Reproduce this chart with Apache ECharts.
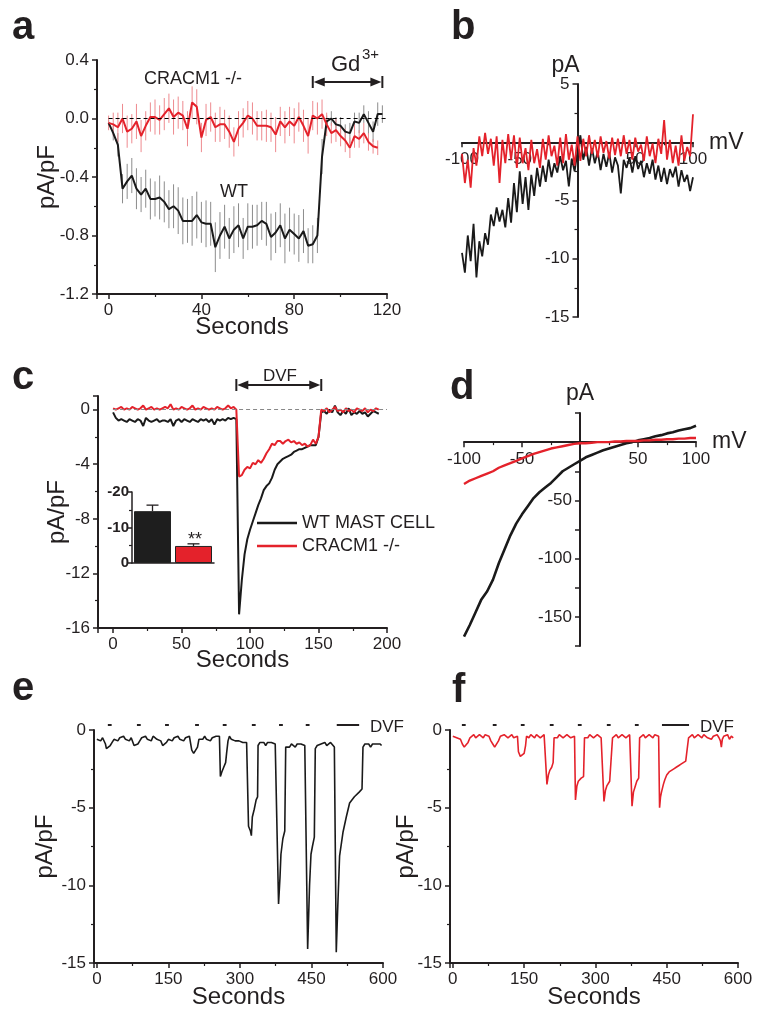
<!DOCTYPE html>
<html>
<head>
<meta charset="utf-8">
<script src="https://cdn.jsdelivr.net/npm/echarts@6/dist/echarts.min.js"></script>
<style>html,body{margin:0;padding:0;background:#fff}#chart{width:763px;height:1017px}</style>
</head>
<body>
<div id="chart"></div>
<script>
// ---------- DATA ----------
// Panel a: mean current density (pA/pF) vs time (s), with SEM
const aTime = [0,2,4,6,8,10,12,14,16,18,20,22,24,26,28,30,32,34,36,38,40,42,44,46,48,50,52,54,56,58,60,62,64,66,68,70,72,74,76,78,80,82,84,86,88,90,92,94,96,98,100,102,104,106,108,110,112,114,116,118];
const aWT = [-0.03,-0.10,-0.18,-0.48,-0.43,-0.39,-0.48,-0.52,-0.48,-0.55,
 -0.55,-0.54,-0.57,-0.62,-0.60,-0.63,-0.70,-0.70,-0.70,-0.66,
 -0.71,-0.72,-0.72,-0.88,-0.80,-0.74,-0.82,-0.76,-0.73,-0.82,
 -0.74,-0.74,-0.73,-0.70,-0.72,-0.81,-0.78,-0.73,-0.82,-0.76,
 -0.79,-0.82,-0.77,-0.87,-0.86,-0.80,-0.26,-0.02,0.00,-0.04,
 -0.05,-0.09,-0.10,-0.02,-0.03,0.03,-0.03,-0.09,0.03,0.03];
const aWTerr = [0.02,0.05,0.08,0.10,0.12,0.12,0.14,0.12,0.13,0.14,
 0.12,0.15,0.14,0.13,0.15,0.16,0.16,0.15,0.17,0.16,
 0.14,0.16,0.15,0.17,0.16,0.15,0.14,0.16,0.15,0.14,
 0.16,0.15,0.14,0.13,0.15,0.16,0.14,0.15,0.17,0.15,
 0.14,0.16,0.15,0.12,0.13,0.12,0.12,0.04,0.05,0.05,
 0.06,0.05,0.07,0.06,0.07,0.06,0.08,0.07,0.08,0.06];
const aKO = [-0.03,-0.04,-0.06,0.00,-0.09,-0.07,-0.02,-0.12,-0.05,0.01,
 0.01,-0.01,0.03,0.07,0.01,0.04,0.02,-0.07,0.11,0.08,
 -0.13,-0.01,0.01,-0.06,-0.04,-0.04,-0.09,-0.16,-0.07,-0.03,
 0.02,0.00,-0.05,-0.05,-0.05,-0.06,-0.11,-0.02,-0.06,-0.02,
 -0.05,0.01,-0.05,-0.12,0.02,0.00,0.03,-0.04,-0.10,-0.08,
 -0.12,-0.15,-0.20,-0.12,-0.14,-0.10,-0.16,-0.19,-0.20];
const aKOerr = [0.05,0.08,0.10,0.10,0.11,0.10,0.12,0.11,0.10,0.10,
 0.12,0.10,0.11,0.10,0.12,0.11,0.10,0.12,0.11,0.12,
 0.10,0.11,0.10,0.10,0.12,0.10,0.11,0.10,0.12,0.10,
 0.10,0.11,0.10,0.10,0.11,0.10,0.12,0.10,0.11,0.10,
 0.12,0.10,0.11,0.12,0.10,0.11,0.10,0.08,0.07,0.08,
 0.07,0.08,0.07,0.08,0.06,0.07,0.06,0.05,0.05];
const gdWindow = [88, 118];

// Panel b: I-V (pA vs mV)
const bV = [-100,-97.5,-95,-92.5,-90,-87.5,-85,-82.5,-80,-77.5,-75,-72.5,-70,-67.5,-65,-62.5,-60,-57.5,-55,-52.5,-50,-47.5,-45,-42.5,-40,-37.5,-35,-32.5,-30,-27.5,-25,-22.5,-20,-17.5,-15,-12.5,-10,-7.5,-5,-2.5,0,2.5,5,7.5,10,12.5,15,17.5,20,22.5,25,27.5,30,32.5,35,37.5,40,42.5,45,47.5,50,52.5,55,57.5,60,62.5,65,67.5,70,72.5,75,77.5,80,82.5,85,87.5,90,92.5,95,97.5,100];
const bWT = [-9.5,-11.2,-8.0,-10.2,-7.0,-11.6,-8.5,-9.8,-7.8,-8.8,
 -6.2,-7.2,-5.6,-6.8,-5.8,-7.3,-4.8,-6.9,-3.5,-6.0,
 -2.5,-5.3,-3.0,-5.8,-2.8,-4.6,-2.2,-3.8,-2.0,-3.4,
 -1.5,-3.0,-1.8,-2.6,-1.2,-2.4,-1.6,-3.8,-1.4,-2.5,
 -0.8,0.6,-1.5,-0.4,-2.0,-0.5,-1.8,-0.8,-2.4,-1.0,
 -2.1,-0.9,-2.6,-1.3,-2.0,-4.4,-1.5,-2.2,-1.3,-2.6,
 -1.2,-2.3,-1.6,-3.0,-1.8,-2.7,-1.5,-3.2,-2.0,-3.4,
 -2.2,-3.6,-2.3,-3.0,-2.1,-3.8,-2.4,-3.4,-2.8,-4.2,
 -3.0];
const bKO = [-1.0,-3.5,-1.5,-3.9,-0.5,-2.0,0.5,-1.2,0.8,-1.0,
 0.3,-2.0,0.5,-3.5,0.2,-1.8,0.7,-1.5,0.6,-2.2,
 0.4,-1.8,-0.5,-2.4,0.2,-1.8,-0.6,-2.2,0.3,-1.5,
 0.6,-1.2,-0.3,-2.0,0.4,-1.8,0.7,-1.5,-0.2,-2.0,
 0.5,-1.6,0.3,-1.2,0.6,-1.0,0.2,-1.3,0.5,-0.9,
 0.1,-1.4,0.4,-1.1,0.3,-1.2,0.6,-1.0,0.2,-1.5,
 0.4,-0.8,-0.2,-1.6,0.5,-1.2,-0.1,-1.8,0.3,-1.0,
 1.9,-1.5,0.2,-1.8,-0.3,-2.0,0.6,-1.6,-0.4,-1.2,
 2.4];

// Panel c: DVF-induced current (pA/pF vs s)
const cTime = [0,2,4,6,8,10,12,14,16,18,20,22,24,26,28,30,32,34,36,38,40,42,44,46,48,50,52,54,56,58,60,62,64,66,68,70,72,74,76,78,80,82,84,86,88,90,92,94,96,98,100,102,104,106,108,110,112,114,116,118,120,122,124,126,128,130,132,134,136,138,140,142,144,146,148,150,152,154,156,158,160,162,164,166,168,170,172,174,176,178,180,182,184,186,188,190,192,194];
const cWT = [-0.2,-0.6,-0.8,-0.7,-0.8,-0.9,-0.7,-0.8,-0.9,-0.7,
 -0.8,-1.2,-0.6,-0.8,-0.9,-0.8,-0.7,-0.9,-0.8,-0.8,
 -0.9,-0.7,-1.2,-0.8,-0.7,-0.9,-0.7,-0.8,-0.9,-0.7,
 -0.8,-0.9,-0.7,-0.8,-0.7,-0.9,-0.7,-1.1,-0.7,-0.8,
 -0.7,-0.8,-0.6,-0.7,-0.6,-0.7,-15.0,-12.5,-10.6,-9.5,
 -8.8,-8.2,-7.6,-7.0,-6.5,-5.9,-5.6,-5.4,-5.0,-4.4,
 -4.0,-3.8,-3.6,-3.5,-3.4,-3.3,-3.1,-3.0,-2.9,-2.9,
 -2.8,-2.7,-2.6,-2.6,-2.6,-2.0,-0.2,-0.1,-0.3,0.0,
 -0.2,0.3,-0.2,-0.4,-0.1,-0.3,0.1,-0.4,-0.2,-0.3,
 -0.1,-0.3,-0.2,-0.5,-0.3,-0.1,-0.2,-0.3];
const cKO = [0.1,0.0,0.1,0.2,0.0,0.1,0.0,0.2,0.1,0.0,
 0.1,0.3,0.0,0.1,0.2,0.0,0.1,0.0,0.1,0.2,
 0.1,0.4,0.0,0.1,0.0,0.2,0.1,0.0,0.1,0.3,
 0.0,0.1,0.0,0.2,0.1,0.0,0.1,0.0,0.2,0.1,
 0.0,0.1,0.3,0.1,0.2,0.0,-4.9,-4.8,-4.4,-4.2,
 -4.3,-3.9,-4.0,-3.7,-3.9,-3.6,-3.2,-2.9,-2.5,-2.6,
 -2.3,-2.3,-2.5,-2.3,-2.2,-2.4,-2.3,-2.5,-2.4,-2.6,
 -2.5,-2.7,-2.6,-2.2,-2.5,-2.0,0.0,-0.1,0.1,-0.2,
 0.0,0.2,-0.1,0.0,-0.2,0.1,-0.1,0.0,-0.2,0.1,
 0.0,-0.1,0.1,-0.2,0.0,-0.1,0.1,0.0];
const dvfWindow = [90, 152];

// Inset: peak current density (pA/pF)
const insetCats = ['WT', 'CRACM1 -/-'];
const insetMean = [-14.6, -4.8];
const insetErr = [1.7, 0.6];

// Panel d: I-V (pA vs mV)
const dV = [-100,-95,-90,-85,-80,-75,-70,-65,-60,-55,-50,-45,-40,-35,-30,-25,-20,-15,-10,-5,0,5,10,15,20,25,30,35,40,45,50,55,60,65,70,75,80,85,90,95,100];
const dWT = [-167,-157,-146,-135,-128,-118,-104,-92,-80,-70,-62,-55,-48,-43,-39,-35,-30,-25,-22,-19,-16,-13,-11,-9,-7,-5.5,-4,-2.5,-1,0,1.5,2.5,3.5,5,6,7.5,8.5,10,11,12,14];
const dKO = [-36,-33,-31,-29,-27,-25,-22,-20,-18,-16,-14,-12,-10,-8.5,-7,-5.5,-4.5,-3.5,-2.5,-1.5,-1,-1,-0.5,0,0,0,0.5,0.5,1,1,1,1.5,1.5,2,2,2.5,2.5,3,3,3.5,3.5];

// Panel e: WT repeated DVF pulses (pA/pF vs s)
const eT = [0,4,8,12,16,18,20,24,28,32,36,40,44,48,52,56,60,64,68,72,76,78,82,86,90,94,98,102,106,110,114,118,122,126,130,134,138,142,146,150,154,158,162,166,170,174,178,182,186,190,194,197,199,203,207,211,214,218,222,226,230,234,238,242,246,250,254,257,259,262,266,270,272,275,278,282,286,290,294,298,302,306,310,314,317,318,322,324,326,330,334,337,338,342,346,350,354,358,362,366,370,374,378,381,384,386,390,394,396,400,404,408,412,416,420,424,428,432,436,439,442,446,449,452,456,458,462,466,470,474,478,482,486,490,494,498,502,505,509,516,523,530,540,550,556,558,562,566,570,574,578,582,586,590,594,597];
const eV = [-0.6,-0.5,-0.7,-0.5,-0.6,-0.9,-1.2,-1.3,-1.0,-0.8,-0.6,-0.5,-0.7,-0.5,-0.6,-0.4,-0.6,-0.5,-0.7,-0.5,-0.6,-1.0,-1.1,-0.9,-0.7,-0.5,-0.6,-0.4,-0.6,-0.5,-0.7,-0.4,-0.5,-0.6,-0.5,-0.7,-1.0,-1.1,-0.8,-0.6,-0.5,-0.7,-0.5,-0.6,-0.4,-0.6,-0.5,-0.7,-0.5,-0.6,-0.4,-0.3,-1.3,-1.5,-1.4,-1.1,-0.6,-0.5,-0.6,-0.4,-0.6,-0.5,-0.7,-0.5,-0.6,-0.4,-0.5,-0.4,-3.0,-2.7,-2.4,-2.1,-1.5,-0.7,-0.4,-0.6,-0.5,-0.7,-0.6,-0.7,-0.6,-0.8,-0.7,-0.8,-0.7,-6.2,-6.5,-6.8,-5.6,-5.1,-4.5,-4.3,-1.0,-0.8,-0.9,-0.8,-1.0,-0.8,-0.9,-0.8,-0.9,-0.9,-1.0,-11.2,-9.5,-8.0,-7.0,-6.5,-1.1,-1.0,-1.1,-0.9,-1.0,-1.1,-0.9,-1.0,-0.9,-1.0,-1.0,-1.1,-14.1,-10.0,-8.0,-7.5,-6.9,-1.2,-1.0,-1.0,-0.9,-1.0,-0.8,-1.0,-0.9,-0.8,-0.9,-1.1,-14.3,-11.5,-8.1,-6.6,-5.6,-4.7,-4.3,-4.0,-3.8,-1.1,-0.9,-1.0,-0.9,-1.1,-0.9,-1.0,-0.9,-1.0,-0.9,-1.0];
const eMarks = [[23,31],[84,92],[143,151],[206,214],[264,272],[325,333],[382,390],[438,446],[503,550]];

// Panel f: CRACM1 -/- repeated DVF pulses
const fT = [0,4,8,12,16,20,24,28,32,36,40,44,48,52,56,60,64,68,72,76,80,84,88,92,96,100,104,108,112,116,120,124,128,132,136,138,142,145,150,153,155,160,164,168,172,176,180,184,188,192,196,198,201,204,208,211,213,216,220,224,228,232,236,240,244,248,252,256,258,261,264,270,275,277,280,284,288,292,296,300,304,308,312,316,318,321,324,330,334,336,340,344,348,352,356,360,364,368,372,375,377,380,383,387,391,393,397,401,405,409,413,417,421,425,429,433,435,437,439,443,446,450,455,460,465,470,475,480,485,490,494,496,500,504,508,512,516,520,524,528,532,536,540,544,548,552,556,560,563,565,567,570,574,578,582,586,590];
const fV = [-0.4,-0.3,-0.5,-0.4,-0.6,-0.9,-1.1,-1.0,-0.8,-0.5,-0.4,-0.3,-0.5,-0.4,-0.3,-0.4,-0.5,-0.3,-0.4,-0.4,-0.7,-0.9,-1.1,-1.0,-0.7,-0.4,-0.5,-0.3,-0.4,-0.5,-0.4,-0.3,-0.5,-0.4,-0.4,-1.4,-1.7,-1.8,-1.5,-1.0,-0.4,-0.5,-0.3,-0.4,-0.5,-0.3,-0.4,-0.5,-0.4,-0.3,-0.4,-3.5,-2.9,-2.6,-2.4,-2.1,-0.5,-0.4,-0.5,-0.3,-0.4,-0.5,-0.4,-0.3,-0.4,-0.5,-0.4,-0.4,-4.5,-3.6,-3.3,-3.1,-3.0,-0.5,-0.4,-0.5,-0.3,-0.4,-0.5,-0.4,-0.3,-0.4,-0.5,-0.4,-4.6,-3.9,-3.6,-3.3,-3.2,-0.5,-0.4,-0.3,-0.5,-0.4,-0.3,-0.4,-0.5,-0.4,-0.3,-0.4,-4.9,-4.0,-3.7,-3.3,-3.1,-0.5,-0.4,-0.3,-0.5,-0.4,-0.3,-0.4,-0.5,-0.3,-0.4,-0.4,-5.0,-4.3,-4.0,-3.5,-3.2,-2.9,-2.7,-2.6,-2.5,-2.4,-2.3,-2.2,-2.1,-2.0,-1.9,-0.5,-0.4,-0.3,-0.5,-0.4,-0.3,-0.4,-0.5,-0.3,-0.4,-0.5,-0.4,-0.6,-0.4,-0.5,-0.3,-0.5,-0.7,-1.1,-0.6,-0.4,-0.5,-0.3,-0.6,-0.4,-0.5];
const fMarks = [[19,27],[84,92],[143,151],[204,212],[263,271],[324,332],[383,391],[440,497]];

// ---------- STYLE / HELPERS ----------
const FONT = "'Liberation Sans', Arial, sans-serif";
const INK = '#231f20';
const RED = '#e4222b';
const BLK = '#1a1a1a';

const GRIDS = {
  a: {left: 97, top: 60, width: 290, height: 234},
  b: {left: 462, top: 84, width: 231, height: 233},
  c: {left: 98, top: 396, width: 289, height: 232},
  inset: {left: 132, top: 492, width: 82, height: 71},
  d: {left: 464, top: 413, width: 232, height: 233},
  e: {left: 94, top: 730, width: 289, height: 233},
  f: {left: 450, top: 730, width: 288, height: 233}
};
// I-V panels: axes cross at the origin; offsets derived from axis ranges and grid size
const bX = {min: -100, max: 100}, bY = {min: -15, max: 5};
const dX = {min: -100, max: 100}, dY = {min: -175, max: 25};
const crossX = (g, X) => -(0 - X.min) / (X.max - X.min) * g.width;   // y axis shift
const crossY = (g, Y) => -(0 - Y.min) / (Y.max - Y.min) * g.height;  // x axis shift

function merge(a, b) {
  const o = Object.assign({}, a);
  for (const k in b) {
    const v = b[k];
    if (v && typeof v === 'object' && !Array.isArray(v) && a[k] && typeof a[k] === 'object') o[k] = merge(a[k], v);
    else o[k] = v;
  }
  return o;
}
const baseAxis = {
  type: 'value', scale: false, splitLine: {show: false}, nameMoveOverlap: false,
  axisLine: {show: true, onZero: false, lineStyle: {color: INK, width: 2}},
  axisTick: {show: true, inside: false, length: 5, lineStyle: {color: INK, width: 1.5}},
  minorTick: {show: true, splitNumber: 2, length: 3, lineStyle: {color: INK, width: 1.2}},
  axisLabel: {color: INK, fontSize: 17, fontFamily: FONT, margin: 8},
  nameTextStyle: {color: INK, fontSize: 24, fontFamily: FONT}
};
const ax = (extra) => merge(baseAxis, extra);
const pairs = (xs, ys) => ys.map((v, i) => [xs[i], v]);
const zeroFmt = (v) => (Math.abs(v) < 1e-9 ? '' : v);

function errRender(color) {
  return function (params, api) {
    const x = api.value(0), y = api.value(1), e = api.value(2);
    const p1 = api.coord([x, y + e]), p2 = api.coord([x, y - e]);
    return {type: 'line', shape: {x1: p1[0], y1: p1[1], x2: p2[0], y2: p2[1]}, style: {stroke: color, lineWidth: 1}};
  };
}
function bracketRender(yRef, dy) {
  return function (params, api) {
    const a = api.coord([api.value(0), yRef]);
    const b = api.coord([api.value(1), yRef]);
    const y = a[1] + dy, x0 = a[0], x1 = b[0];
    return {type: 'group', children: [
      {type: 'line', shape: {x1: x0 + 4, y1: y, x2: x1 - 4, y2: y}, style: {stroke: INK, lineWidth: 2}},
      {type: 'polygon', shape: {points: [[x0 + 1, y], [x0 + 12, y - 4.5], [x0 + 12, y + 4.5]]}, style: {fill: INK}},
      {type: 'polygon', shape: {points: [[x1 - 1, y], [x1 - 12, y - 4.5], [x1 - 12, y + 4.5]]}, style: {fill: INK}},
      {type: 'line', shape: {x1: x0, y1: y - 6, x2: x0, y2: y + 6}, style: {stroke: INK, lineWidth: 2}},
      {type: 'line', shape: {x1: x1, y1: y - 6, x2: x1, y2: y + 6}, style: {stroke: INK, lineWidth: 2}}
    ]};
  };
}
function markRender(dy) {
  return function (params, api) {
    const a = api.coord([api.value(0), 0]);
    const b = api.coord([api.value(1), 0]);
    return {type: 'line', shape: {x1: a[0], y1: a[1] + dy, x2: b[0], y2: b[1] + dy}, style: {stroke: INK, lineWidth: 2}};
  };
}
function txt(s, x, y, fs, opts) {
  opts = opts || {};
  return {type: 'text', x: x, y: y, silent: true, z: 100,
    style: {text: s, font: (opts.bold ? 'bold ' : '') + fs + 'px ' + FONT, fill: INK,
      align: opts.align || 'left', verticalAlign: 'middle'}};
}
const lineS = (name, xi, data, color, width, z) => ({
  type: 'line', name: name, xAxisIndex: xi, yAxisIndex: xi, data: data, symbol: 'none',
  lineStyle: {color: color, width: width}, itemStyle: {color: color}, z: z || 3, silent: true
});
const G = (g) => Object.assign({outerBoundsMode: 'none'}, g);

// ---------- OPTION ----------
const option = {
  animation: false,
  backgroundColor: '#fff',
  grid: [G(GRIDS.a), G(GRIDS.b), G(GRIDS.c), G(GRIDS.inset), G(GRIDS.d), G(GRIDS.e), G(GRIDS.f)],
  xAxis: [
    ax({gridIndex: 0, min: -5, max: 120, minInterval: 40, maxInterval: 40,
      axisLabel: {formatter: (v) => (v % 40 === 0 ? v : '')},
      name: 'Seconds', nameLocation: 'middle', nameGap: 21}),
    ax({gridIndex: 1, min: bX.min, max: bX.max, interval: 50, position: 'bottom',
      offset: crossY(GRIDS.b, bY), axisLabel: {formatter: zeroFmt, margin: 9},
      name: 'mV', nameLocation: 'end', nameGap: 16, nameTextStyle: {fontSize: 23, verticalAlign: 'middle'}}),
    ax({gridIndex: 2, min: -11, max: 200, minInterval: 50, maxInterval: 50,
      axisLabel: {formatter: (v) => (v % 50 === 0 ? v : '')},
      name: 'Seconds', nameLocation: 'middle', nameGap: 20}),
    {type: 'category', gridIndex: 3, data: insetCats,
      axisLine: {show: true, onZero: false, lineStyle: {color: INK, width: 1.5}},
      axisTick: {show: false}, axisLabel: {show: false}},
    ax({gridIndex: 4, min: dX.min, max: dX.max, interval: 50, position: 'bottom',
      offset: crossY(GRIDS.d, dY), axisLabel: {formatter: zeroFmt, margin: 9},
      name: 'mV', nameLocation: 'end', nameGap: 16, nameTextStyle: {fontSize: 23, verticalAlign: 'middle'}}),
    ax({gridIndex: 5, min: -6, max: 600, minInterval: 150, maxInterval: 150,
      axisLabel: {formatter: (v) => (v % 150 === 0 ? v : '')},
      name: 'Seconds', nameLocation: 'middle', nameGap: 22}),
    ax({gridIndex: 6, min: -6, max: 600, minInterval: 150, maxInterval: 150,
      axisLabel: {formatter: (v) => (v % 150 === 0 ? v : '')},
      name: 'Seconds', nameLocation: 'middle', nameGap: 22})
  ],
  yAxis: [
    ax({gridIndex: 0, min: -1.2, max: 0.4, interval: 0.4,
      axisLabel: {formatter: (v) => (Math.abs(v) < 1e-9 ? '0.0' : v.toFixed(1))},
      name: 'pA/pF', nameLocation: 'middle', nameGap: 38}),
    ax({gridIndex: 1, min: bY.min, max: bY.max, interval: 5, position: 'left',
      offset: crossX(GRIDS.b, bX), axisLabel: {formatter: zeroFmt, margin: 8},
      name: 'pA', nameLocation: 'end', nameGap: 7, nameTextStyle: {fontSize: 23, padding: [0, 24, 0, 0]}}),
    ax({gridIndex: 2, min: -16, max: 1, interval: 4,
      axisLabel: {formatter: (v) => (v > 0 ? '' : v)},
      name: 'pA/pF', nameLocation: 'middle', nameGap: 29}),
    ax({gridIndex: 3, min: -20, max: 0, interval: 10, inverse: true,
      axisLine: {lineStyle: {width: 1.5}}, axisTick: {length: 4},
      axisLabel: {fontSize: 15, fontWeight: 'bold', margin: 3}}),
    ax({gridIndex: 4, min: dY.min, max: dY.max, interval: 25, minorTick: {show: false}, position: 'left',
      offset: crossX(GRIDS.d, dX),
      axisLabel: {formatter: (v) => (v < 0 && v % 50 === 0 ? v : ''), margin: 8},
      name: 'pA', nameLocation: 'end', nameGap: 8, nameTextStyle: {fontSize: 23}}),
    ax({gridIndex: 5, min: -15, max: 0, interval: 5,
      name: 'pA/pF', nameLocation: 'middle', nameGap: 37}),
    ax({gridIndex: 6, min: -15, max: 0, interval: 5,
      name: 'pA/pF', nameLocation: 'middle', nameGap: 32})
  ],
  legend: {
    left: 257, top: 514, padding: 0, orient: 'vertical', icon: 'rect', itemWidth: 40, itemHeight: 2.5,
    itemGap: 5, selectedMode: false,
    textStyle: {color: INK, fontSize: 18, fontFamily: FONT, lineHeight: 18},
    data: ['WT MAST CELL', 'CRACM1 -/-']
  },
  series: [
    // ---- a ----
    {type: 'custom', xAxisIndex: 0, yAxisIndex: 0, z: 1, silent: true,
      renderItem: errRender('#8c8c8c'), data: aWT.map((v, i) => [aTime[i], v, aWTerr[i]])},
    {type: 'custom', xAxisIndex: 0, yAxisIndex: 0, z: 1, silent: true,
      renderItem: errRender('#ee8a8f'), data: aKO.map((v, i) => [aTime[i], v, aKOerr[i]])},
    merge(lineS('WT (a)', 0, pairs(aTime, aWT), BLK, 2, 3), {
      markLine: {silent: true, symbol: 'none', label: {show: false},
        lineStyle: {color: '#000', type: [4, 3], width: 1},
        data: [[{coord: [0, 0]}, {coord: [120, 0]}]]}}),
    lineS('CRACM1 (a)', 0, pairs(aTime, aKO), RED, 2, 4),
    {type: 'custom', xAxisIndex: 0, yAxisIndex: 0, z: 5, silent: true, clip: false,
      renderItem: bracketRender(0.4, 22), data: [gdWindow]},
    // ---- b ----
    lineS('WT (b)', 1, pairs(bV, bWT), BLK, 1.8, 3),
    lineS('CRACM1 (b)', 1, pairs(bV, bKO), RED, 1.8, 4),
    // ---- c ----
    merge(lineS('WT MAST CELL', 2, pairs(cTime, cWT), BLK, 2, 3), {
      markLine: {silent: true, symbol: 'none', label: {show: false},
        lineStyle: {color: '#888', type: [4, 3], width: 1},
        data: [[{coord: [0, 0]}, {coord: [200, 0]}]]}}),
    lineS('CRACM1 -/-', 2, pairs(cTime, cKO), RED, 2, 4),
    {type: 'custom', xAxisIndex: 2, yAxisIndex: 2, z: 5, silent: true, clip: false,
      renderItem: bracketRender(1, -11), data: [dvfWindow]},
    // ---- inset ----
    {type: 'bar', xAxisIndex: 3, yAxisIndex: 3, barWidth: 37, silent: true, z: 3,
      data: insetMean.map((v, i) => ({value: v, itemStyle: {color: i === 0 ? '#1e1e1e' : RED, borderColor: '#222', borderWidth: 1}}))},
    {type: 'custom', xAxisIndex: 3, yAxisIndex: 3, z: 4, silent: true, clip: false,
      renderItem: function (params, api) {
        const p = api.coord([api.value(0), api.value(1)]);
        const q = api.coord([api.value(0), api.value(1) - api.value(2)]);
        return {type: 'group', children: [
          {type: 'line', shape: {x1: p[0], y1: p[1], x2: q[0], y2: q[1]}, style: {stroke: INK, lineWidth: 1.3}},
          {type: 'line', shape: {x1: q[0] - 6, y1: q[1], x2: q[0] + 6, y2: q[1]}, style: {stroke: INK, lineWidth: 1.3}}
        ]};
      },
      data: insetMean.map((v, i) => [i, v, insetErr[i]])},
    // ---- d ----
    lineS('WT (d)', 4, pairs(dV, dWT), BLK, 2.6, 3),
    lineS('CRACM1 (d)', 4, pairs(dV, dKO), RED, 2.4, 4),
    // ---- e ----
    lineS('WT (e)', 5, pairs(eT, eV), BLK, 1.6, 3),
    {type: 'custom', xAxisIndex: 5, yAxisIndex: 5, z: 5, silent: true, clip: false,
      renderItem: markRender(-5), data: eMarks},
    // ---- f ----
    lineS('CRACM1 (f)', 6, pairs(fT, fV), RED, 1.6, 3),
    {type: 'custom', xAxisIndex: 6, yAxisIndex: 6, z: 5, silent: true, clip: false,
      renderItem: markRender(-5), data: fMarks}
  ],
  graphic: [
    txt('a', 12, 28, 40, {bold: true}),
    txt('b', 451, 28, 40, {bold: true}),
    txt('c', 12, 378, 40, {bold: true}),
    txt('d', 450, 388, 40, {bold: true}),
    txt('e', 12, 689, 40, {bold: true}),
    txt('f', 452, 691, 40, {bold: true}),
    txt('CRACM1 -/-', 144, 79, 18),
    txt('WT', 220, 192, 18),
    txt('Gd', 331, 65, 22),
    txt('3+', 362, 55, 15),
    txt('DVF', 280, 376, 17, {align: 'center'}),
    txt('**', 195, 540, 18, {align: 'center'}),
    txt('DVF', 370, 727, 17),
    txt('DVF', 700, 727, 17)
  ]
};

const chart = echarts.init(document.getElementById('chart'), null, {renderer: 'canvas'});
chart.setOption(option);
</script>
</body>
</html>
